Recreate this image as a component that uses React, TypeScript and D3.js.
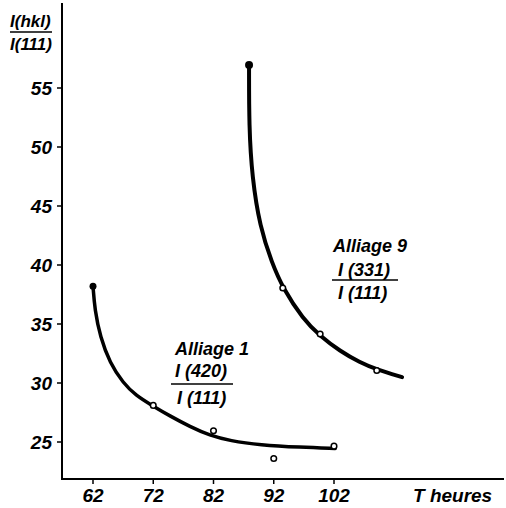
import React from "react";
import * as d3 from "d3";

const xTicks = [62, 72, 82, 92, 102];
const yTicks = [25, 30, 35, 40, 45, 50, 55];

// Alliage 1 : I(420)/I(111)
const a1CurveX = [62, 62.3, 63.2, 64.8, 67.0, 69.1, 71.96, 74.78, 78.1, 81.4, 84.74, 89.7, 96.4, 102.2];
const a1CurveY = [38.2, 36.2, 33.9, 31.7, 30.0, 28.95, 28.05, 27.2, 26.3, 25.55, 25.1, 24.75, 24.55, 24.45];
const a1PointsX = [72, 82, 92, 102];
const a1PointsY = [28.1, 25.95, 23.6, 24.65];
const a1Start = [62, 38.2];

// Alliage 9 : I(331)/I(111)
const a9CurveX = [87.9, 87.9, 88.4, 89.7, 91.7, 93.5, 96.85, 99.7, 103.0, 106.3, 109.1, 113.3];
const a9CurveY = [56.95, 51.7, 47.46, 43.22, 40.17, 38.05, 35.42, 33.98, 32.7, 31.74, 31.14, 30.5];
const a9PointsX = [93.5, 99.7, 109.1];
const a9PointsY = [38.05, 34.15, 31.06];
const a9Start = [87.9, 56.95];

const FONT = "'Liberation Sans Narrow', 'Liberation Sans', Arial, sans-serif";

export default function App() {
  const x = d3.scaleLinear().domain([62, 102]).range([93, 334]);
  const y = d3.scaleLinear().domain([25, 55]).range([442, 88]);
  const line = d3
    .line<[number, number]>()
    .x((d) => x(d[0]))
    .y((d) => y(d[1]))
    .curve(d3.curveBasis);

  const a1 = a1CurveX.map((v, i) => [v, a1CurveY[i]] as [number, number]);
  const a9 = a9CurveX.map((v, i) => [v, a9CurveY[i]] as [number, number]);

  const textStyle: React.CSSProperties = {
    fontFamily: FONT,
    fontStyle: "italic",
    fontWeight: "bold",
  };

  return (
    <svg
      width={506}
      height={508}
      style={{ position: "absolute", left: 0, top: 0, background: "#fff" }}
    >
      {/* axes */}
      <line x1={62} y1={3} x2={62} y2={480} stroke="#000" strokeWidth={2} />
      <line x1={61} y1={479} x2={504} y2={479} stroke="#000" strokeWidth={2} />

      {yTicks.map((t) => (
        <g key={"y" + t}>
          <line x1={57} x2={62} y1={y(t)} y2={y(t)} stroke="#000" strokeWidth={1.5} />
          <text x={52} y={y(t)} dy="0.36em" textAnchor="end" fontSize={19} style={textStyle}>
            {t}
          </text>
        </g>
      ))}
      {xTicks.map((t) => (
        <g key={"x" + t}>
          <line x1={x(t)} x2={x(t)} y1={479} y2={484} stroke="#000" strokeWidth={1.5} />
          <text x={x(t)} y={502} textAnchor="middle" fontSize={19} style={textStyle}>
            {t}
          </text>
        </g>
      ))}
      <text x={413} y={502} fontSize={19} style={textStyle}>
        T heures
      </text>

      {/* y axis title */}
      <text x={10} y={27} fontSize={17} style={textStyle}>I(hkl)</text>
      <line x1={10} x2={52} y1={32} y2={32} stroke="#000" strokeWidth={1.5} />
      <text x={10} y={50} fontSize={17} style={textStyle}>I(111)</text>

      {/* curves */}
      <path d={line(a1) || ""} fill="none" stroke="#000" strokeWidth={3.5} strokeLinecap="round" />
      <path d={line(a9) || ""} fill="none" stroke="#000" strokeWidth={4} strokeLinecap="round" />

      <circle cx={x(a1Start[0])} cy={y(a1Start[1])} r={3.5} fill="#000" />
      <circle cx={x(a9Start[0])} cy={y(a9Start[1])} r={4} fill="#000" />

      {a1PointsX.map((v, i) => (
        <circle key={"p1" + i} cx={x(v)} cy={y(a1PointsY[i])} r={2.8} fill="#fff" stroke="#000" strokeWidth={1.5} />
      ))}
      {a9PointsX.map((v, i) => (
        <circle key={"p9" + i} cx={x(v)} cy={y(a9PointsY[i])} r={2.8} fill="#fff" stroke="#000" strokeWidth={1.5} />
      ))}

      {/* labels */}
      <text x={175} y={355} fontSize={18} style={textStyle}>Alliage 1</text>
      <text x={175} y={377} fontSize={18} style={textStyle}>I (420)</text>
      <line x1={171} x2={233} y1={384} y2={384} stroke="#000" strokeWidth={1.5} />
      <text x={177} y={404} fontSize={18} style={textStyle}>I (111)</text>

      <text x={333} y={252} fontSize={18} style={textStyle}>Alliage 9</text>
      <text x={338} y={276} fontSize={18} style={textStyle}>I (331)</text>
      <line x1={332} x2={398} y1={280} y2={280} stroke="#000" strokeWidth={1.5} />
      <text x={338} y={299} fontSize={18} style={textStyle}>I (111)</text>
    </svg>
  );
}
